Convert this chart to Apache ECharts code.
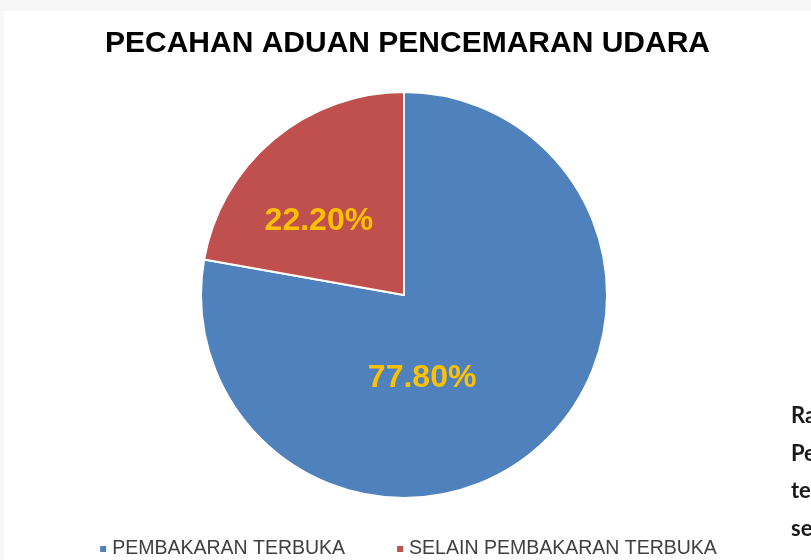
<!DOCTYPE html>
<html>
<head>
<meta charset="utf-8">
<script src="https://cdn.jsdelivr.net/npm/echarts@6/dist/echarts.min.js"></script>
<style>
  html, body { margin: 0; padding: 0; background: #f7f7f7; width: 811px; height: 560px; overflow: hidden; }
  #pieChart { position: absolute; left: 4px; top: 11px; width: 807px; height: 549px; background: #ffffff; }
</style>
</head>
<body>
<div id="pieChart"></div>
<script>
const categories = ['PEMBAKARAN TERBUKA', 'SELAIN PEMBAKARAN TERBUKA'];
const shares = [77.8, 22.2];
const colors = ['#4f81bd', '#c0504d'];
// label nudges so they sit where the original put them
const labelOffsets = [[-49, 3], [-18, 6]];
const sideText = ['Rajah', 'Pecahan', 'terbuka', 'selain'];

const myChart = echarts.init(document.getElementById('pieChart'));

const option = {
  color: colors,
  title: {
    text: 'PECAHAN ADUAN PENCEMARAN UDARA',
    left: 'center',
    top: 13,
    textStyle: { fontFamily: 'Liberation Sans', fontWeight: 'bold', fontSize: 30, color: '#000' }
  },
  legend: {
    top: 528,
    left: 'center',
    padding: 0,
    itemWidth: 8,
    itemHeight: 8,
    itemGap: 50,
    icon: 'rect',
    data: categories,
    textStyle: { fontFamily: 'Liberation Sans', fontSize: 19.5, color: '#404040' }
  },
  graphic: sideText.map((t, i) => ({
    type: 'text',
    left: 787,
    top: 394 + i * 37.5,
    style: { text: t, font: 'bold 22px Lato', fill: '#1a1a1a' }
  })),
  series: [
    {
      type: 'pie',
      center: [400, 284],
      radius: [0, 203],
      startAngle: 90,
      clockwise: true,
      silent: true,
      itemStyle: { borderColor: '#ffffff', borderWidth: 2 },
      label: {
        position: 'inside',
        formatter: (p) => p.value.toFixed(2) + '%',
        fontFamily: 'Liberation Sans',
        fontWeight: 'bold',
        fontSize: 32,
        color: '#ffc000'
      },
      labelLine: { show: false },
      data: categories.map((name, i) => ({
        name: name,
        value: shares[i],
        label: { offset: labelOffsets[i] }
      }))
    }
  ]
};

myChart.setOption(option);
</script>
</body>
</html>
